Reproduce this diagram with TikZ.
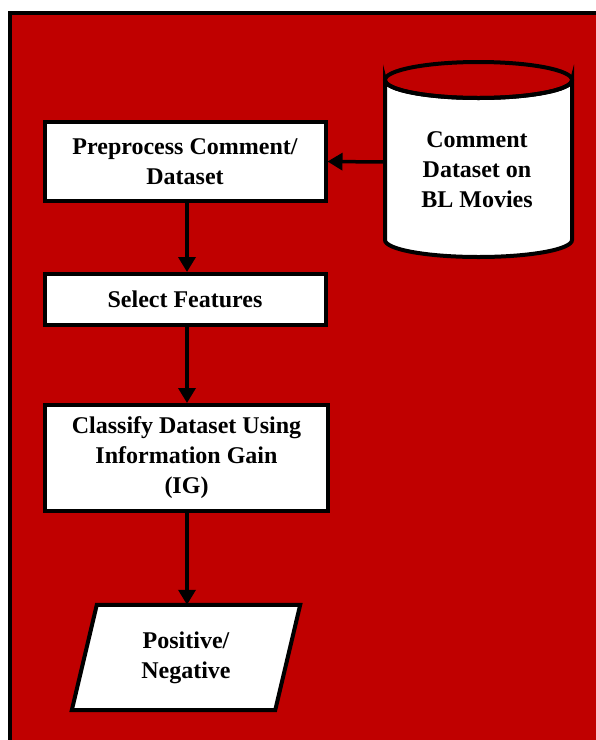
\documentclass[tikz,border=0pt]{standalone}
\usepackage{fontspec}
\setmainfont{Liberation Serif}
\usetikzlibrary{arrows.meta}
\definecolor{bgred}{RGB}{192,0,0}
\begin{document}
\begin{tikzpicture}[x=1pt,y=-1pt,
  txt/.style={align=center,font=\bfseries\fontsize{24}{30}\selectfont,text=black,inner sep=0pt},
  box/.style={txt,draw=black,fill=white,line width=4pt},
  flow/.style={line width=3.5pt,-{Triangle[width=17pt,length=15pt]}}]
\useasboundingbox (0,0) rectangle (596,740);
\fill[white] (0,0) rectangle (596,740);
\fill[bgred] (10,13) rectangle (596,740);
\draw[line width=3.5pt] (10,740) -- (10,13) -- (596,13);
% cylinder
\filldraw[fill=white,draw=black,line width=4pt]
  (385,80) -- (385,240) arc[start angle=180,end angle=360,x radius=93.5,y radius=-17] -- (572,80)
  arc[start angle=0,end angle=180,x radius=93.5,y radius=18] -- cycle;
\draw[line width=4pt] (478.5,80) ellipse[x radius=93.5,y radius=18];
\node[txt] (dat) at (477,170) {Comment\\Dataset on\\BL Movies};
\coordinate (datL) at (385,162);
% boxes
\node[box,minimum width=281,minimum height=79] (pre) at (185,161.5) {Preprocess Comment/\\Dataset};
\node[box,minimum width=281,minimum height=51] (sel) at (185,299.5) {Select Features};
\node[box,minimum width=283,minimum height=106] (cls) at (186.5,458) {Classify Dataset Using\\Information Gain\\(IG)};
\node[txt,minimum width=203,minimum height=105] (out) at (186,657.5) {};
\filldraw[fill=white,draw=black,line width=4pt]
  ([xshift=12.5]out.north west) -- ([xshift=12.5]out.north east)
  -- ([xshift=-12.5]out.south east) -- ([xshift=-12.5]out.south west) -- cycle;
\node[txt] (outtxt) at (out.center) {Positive/\\Negative};
% arrows
\draw[flow] (datL) -- (pre.east);
\draw[flow] (pre.south -| 187,0) -- (sel.north -| 187,0);
\draw[flow] (sel.south -| 187,0) -- (cls.north -| 187,0);
\draw[flow] (cls.south -| 187,0) -- (out.north -| 187,0);
\end{tikzpicture}
\end{document}
